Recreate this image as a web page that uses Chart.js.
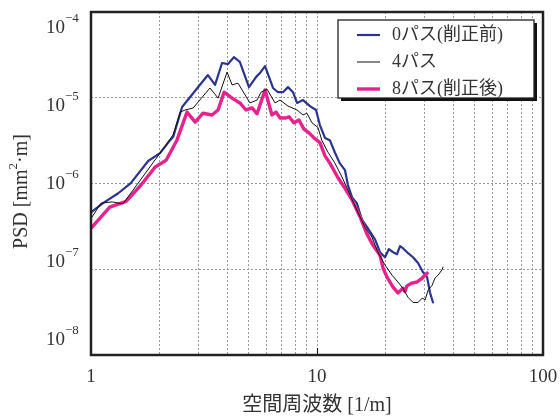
<!DOCTYPE html>
<html>
<head>
<meta charset="utf-8">
<script src="https://cdn.jsdelivr.net/npm/chart.js@4/dist/chart.umd.min.js"></script>
<style>
  html, body { margin: 0; padding: 0; background: #fff; }
  #wrap { width: 560px; height: 417px; }
</style>
</head>
<body>
<div id="wrap"><canvas id="c" width="560" height="417"></canvas></div>
<script>
// Spatial frequency [1/m] and PSD [mm^2·m] for each pass count
const freq0 = [1.00,1.13,1.32,1.50,1.79,2.02,2.24,2.31,2.53,3.29,3.54,3.80,4.04,4.29,4.56,5.00,5.37,5.59,5.89,6.39,6.72,7.07,7.44,7.83,8.16,8.67,9.31,9.90,10.3,10.85,11.4,12.0,12.6,13.3,13.7,14.3,15.0,15.8,16.8,18.1,19.0,20.0,20.8,21.7,22.6,23.3,24.0,25.3,26.6,28.0,29.4,30.7,31.6,32.6];
const psd0  = [4.6e-7,5.9e-7,7.7e-7,1.01e-6,1.83e-6,2.26e-6,3.2e-6,3.5e-6,7.8e-6,1.84e-5,1.41e-5,2.54e-5,2.47e-5,2.98e-5,2.61e-5,1.33e-5,1.74e-5,1.94e-5,2.34e-5,1.30e-5,1.16e-5,1.16e-5,1.33e-5,1.16e-5,8.7e-6,9.4e-6,8.0e-6,7.2e-6,4.8e-6,3.4e-6,3.2e-6,2.3e-6,1.73e-6,1.43e-6,9.6e-7,6.9e-7,5.9e-7,3.8e-7,3.0e-7,2.2e-7,1.58e-7,1.38e-7,1.72e-7,1.58e-7,1.50e-7,1.86e-7,1.76e-7,1.54e-7,1.38e-7,1.18e-7,9.3e-8,8.1e-8,5.4e-8,4.1e-8];

const freq4 = [1.00,1.107,1.24,1.386,2.02,2.31,2.48,2.61,2.83,3.36,3.65,4.00,4.21,4.47,5.05,5.43,5.65,6.01,6.52,6.86,7.44,8.16,8.67,9.03,9.50,10.1,10.5,11.2,12.0,12.9,13.7,15.0,16.3,17.5,18.6,20.0,21.5,22.8,24.0,25.3,26.6,28.0,29.2,30.1,31.0,32.3,33.3,34.3,35.7,36.1];
const psd4  = [3.9e-7,5.9e-7,6.1e-7,5.8e-7,2.26e-6,3.7e-6,6.8e-6,7.2e-6,7.6e-6,1.30e-5,9.9e-6,1.99e-5,1.41e-5,1.48e-5,8.7e-6,9.4e-6,1.16e-5,1.26e-5,8.7e-6,9.4e-6,8.0e-6,7.2e-6,6.3e-6,6.6e-6,5.1e-6,4.5e-6,3.2e-6,2.3e-6,1.73e-6,1.19e-6,8.4e-7,4.9e-7,3.1e-7,2.37e-7,1.58e-7,1.12e-7,8.5e-8,7.1e-8,6.0e-8,4.7e-8,4.1e-8,4.1e-8,4.6e-8,4.4e-8,5.7e-8,6.5e-8,7.9e-8,8.5e-8,9.8e-8,1.06e-7];

const freq8 = [1.00,1.21,1.43,1.665,1.92,2.15,2.40,2.66,2.89,3.13,3.43,3.65,3.88,4.21,4.56,4.85,5.16,5.43,5.89,6.32,6.59,6.86,7.22,7.52,7.91,8.32,8.76,9.22,9.70,10.3,10.85,11.4,12.4,13.3,14.3,15.5,16.6,17.7,19.0,19.6,20.4,21.7,22.8,24.0,24.5,25.0,26.3,27.7,29.2,30.7];
const psd8  = [3.0e-7,5.3e-7,6.2e-7,9.6e-7,1.55e-6,1.87e-6,3.2e-6,6.8e-6,5.2e-6,6.6e-6,6.3e-6,7.2e-6,1.16e-5,9.9e-6,8.7e-6,7.2e-6,7.6e-6,6.5e-6,1.23e-5,6.3e-6,6.8e-6,5.8e-6,5.8e-6,6.0e-6,5.1e-6,5.5e-6,4.3e-6,3.9e-6,3.4e-6,3.0e-6,2.1e-6,1.73e-6,1.16e-6,8.8e-7,6.4e-7,4.1e-7,2.6e-7,1.9e-7,1.46e-7,1.03e-7,8.1e-8,6.2e-8,5.3e-8,6.0e-8,5.5e-8,6.4e-8,6.9e-8,7.1e-8,7.9e-8,9.0e-8];

const seriesNames = ['0パス(削正前)', '4パス', '8パス(削正後)'];
const seriesColors = ['#2b3590', '#111111', '#e8228c'];
const seriesWidths = [2.2, 1, 3.4];

// Grid positions and labels
const xGrid = [1,2,3,4,5,6,7,8,9,10,20,30,40,50,60,70,80,90,100];
const xLabels = [1, 10, 100];
const yExponents = [-8, -7, -6, -5, -4];
const xTitle = '空間周波数 [1/m]';
const yTitleParts = ['PSD [mm', '2', '·m]'];

const SERIF = "'Liberation Serif', 'Noto Sans CJK JP', serif";
const TEXT = '#333';

const pts = (f, p) => f.map((v, i) => ({ x: v, y: p[i] }));

const decor = {
  id: 'decor',
  afterDraw(chart) {
    const ctx = chart.ctx;
    const ca = chart.chartArea;
    const xs = chart.scales.x, ys = chart.scales.y;
    ctx.save();

    // plot frame
    ctx.strokeStyle = '#222';
    ctx.lineWidth = 2.5;
    ctx.strokeRect(ca.left, ca.top, ca.right - ca.left, ca.bottom - ca.top);
    // small major tick at 10
    ctx.lineWidth = 1.2;
    ctx.beginPath();
    const x10 = Math.round(xs.getPixelForValue(10)) + 0.5;
    ctx.moveTo(x10, ca.bottom); ctx.lineTo(x10, ca.bottom - 7);
    ctx.stroke();

    // x tick labels
    ctx.fillStyle = TEXT;
    ctx.font = '19px ' + SERIF;
    ctx.textAlign = 'center';
    ctx.textBaseline = 'middle';
    xLabels.forEach(v => ctx.fillText(String(v), xs.getPixelForValue(v), ca.bottom + 22));

    // y tick labels (10 with exponent)
    const yTop = ys.getPixelForValue(Math.pow(10, -4)) + 16;
    const yBot = ys.getPixelForValue(Math.pow(10, -8)) - 15;
    yExponents.forEach(e => {
      const t = (e + 8) / 4;
      const yc = yBot + (yTop - yBot) * t;
      ctx.font = '19px ' + SERIF;
      ctx.textAlign = 'right';
      ctx.textBaseline = 'middle';
      ctx.fillText('10', ca.left - 26, yc);
      ctx.font = '13px ' + SERIF;
      ctx.textAlign = 'left';
      ctx.fillText('\u2212' + Math.abs(e), ca.left - 26, yc - 9);
    });

    // x title
    ctx.font = '20px ' + SERIF;
    ctx.textAlign = 'center';
    ctx.textBaseline = 'middle';
    ctx.fillText(xTitle, (ca.left + ca.right) / 2, ca.bottom + 51);

    // y title (rotated, with superscript)
    ctx.save();
    ctx.translate(22, (ca.top + ca.bottom) / 2 + 8);
    ctx.rotate(-Math.PI / 2);
    const fMain = '20px ' + SERIF, fSup = '13px ' + SERIF;
    ctx.font = fMain; const w0 = ctx.measureText(yTitleParts[0]).width;
    ctx.font = fSup;  const w1 = ctx.measureText(yTitleParts[1]).width;
    ctx.font = fMain; const w2 = ctx.measureText(yTitleParts[2]).width;
    let px = -(w0 + w1 + w2) / 2;
    ctx.textAlign = 'left';
    ctx.textBaseline = 'middle';
    ctx.font = fMain; ctx.fillText(yTitleParts[0], px, 0); px += w0;
    ctx.font = fSup;  ctx.fillText(yTitleParts[1], px, -8); px += w1;
    ctx.font = fMain; ctx.fillText(yTitleParts[2], px, 0);
    ctx.restore();

    // legend box with drop shadow
    const lw = 196, lh = 78;
    const lx = ca.right - 9 - lw, ly = ca.top + 8;
    ctx.fillStyle = '#111';
    ctx.fillRect(lx + 3, ly + 3, lw, lh);
    ctx.fillStyle = '#fff';
    ctx.fillRect(lx, ly, lw, lh);
    ctx.strokeStyle = '#222';
    ctx.lineWidth = 1.3;
    ctx.strokeRect(lx, ly, lw, lh);
    const rows = [15, 42, 69];
    seriesNames.forEach((name, i) => {
      const ry = ly + rows[i];
      ctx.strokeStyle = seriesColors[i];
      ctx.lineWidth = seriesWidths[i];
      ctx.beginPath();
      ctx.moveTo(lx + 19, ry); ctx.lineTo(lx + 42, ry);
      ctx.stroke();
      ctx.fillStyle = TEXT;
      ctx.font = '18px ' + SERIF;
      ctx.textAlign = 'left';
      ctx.textBaseline = 'middle';
      ctx.fillText(name, lx + 54, ry);
    });
    ctx.restore();
  }
};

const gridOpts = { color: '#9a9a9a', lineWidth: 1, drawTicks: false };

new Chart(document.getElementById('c'), {
  type: 'line',
  data: {
    datasets: [
      { label: seriesNames[0], data: pts(freq0, psd0), borderColor: seriesColors[0], borderWidth: seriesWidths[0], order: 2 },
      { label: seriesNames[1], data: pts(freq4, psd4), borderColor: seriesColors[1], borderWidth: seriesWidths[1], order: 0 },
      { label: seriesNames[2], data: pts(freq8, psd8), borderColor: seriesColors[2], borderWidth: seriesWidths[2], order: 1 }
    ]
  },
  options: {
    responsive: false,
    animation: false,
    devicePixelRatio: 1,
    layout: { padding: { left: 91, right: 17, top: 12, bottom: 62 } },
    elements: {
      point: { radius: 0 },
      line: { tension: 0, fill: false, borderJoinStyle: 'round', borderCapStyle: 'round' }
    },
    plugins: { legend: { display: false }, tooltip: { enabled: false } },
    scales: {
      x: {
        type: 'logarithmic', min: 1, max: 100,
        afterBuildTicks: axis => { axis.ticks = xGrid.map(v => ({ value: v })); },
        ticks: { display: false },
        grid: gridOpts,
        border: { display: false, dash: [2, 2] }
      },
      y: {
        type: 'logarithmic', min: 1e-8, max: 1e-4,
        afterBuildTicks: axis => { axis.ticks = yExponents.map(e => ({ value: Math.pow(10, e) })); },
        ticks: { display: false },
        grid: gridOpts,
        border: { display: false, dash: [2, 2] }
      }
    }
  },
  plugins: [decor]
});
</script>
</body>
</html>
